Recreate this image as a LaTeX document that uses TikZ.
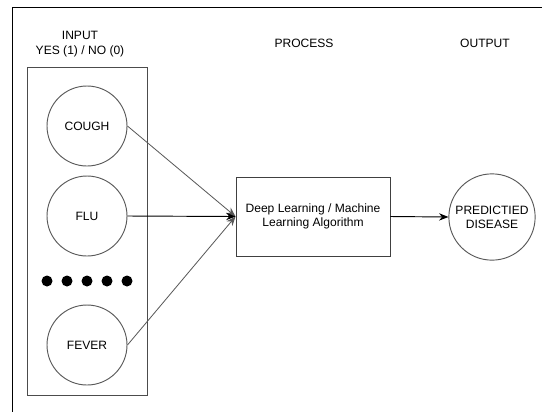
\documentclass[tikz,border=0pt]{standalone}
\usepackage{fontspec}
\setmainfont{Liberation Sans}
\usetikzlibrary{arrows.meta,positioning}
\tikzset{
    flow diagram/.style = {>={Stealth[length=2.8mm,width=2.2mm]},
                           x=0.03cm, y=-0.03cm},
    txt/.style          = {font=\fontsize{10.3}{12.2}\selectfont, align=center},
    symptom/.style      = {draw=black!65, line width=0.8pt, circle, fill=white,
                           minimum size=2.4cm, txt},
    result/.style       = {symptom, minimum size=2.58cm},
    block/.style        = {draw=black!75, line width=0.8pt, fill=white,
                           minimum width=4.62cm, minimum height=2.37cm, txt},
    group/.style        = {draw=black!70, line width=0.8pt,
                           minimum width=3.6cm, minimum height=9.84cm},
    dot/.style          = {circle, fill, inner sep=0pt, minimum size=0.33cm},
    line/.style         = {line width=0.8pt},
    faint line/.style   = {line width=0.7pt, draw=black!65},
    frame/.style        = {line width=0.8pt}
}

\begin{document}
\begin{tikzpicture}[flow diagram]
\useasboundingbox (0,0) rectangle (542,412);

% ================= Outer frame =================
\coordinate (frame tl) at (12,7);
\coordinate (frame tr) at (542,7);
\coordinate (frame bl) at (12,412);
\draw[frame] (frame tr) -- (frame tl) -- (frame bl);

% ================= Column titles =================
\node[txt] (in title) at (80,44) {INPUT\\YES (1) / NO (0)};
\node[txt] (proc title) at (304,43) {PROCESS};
\node[txt] (out title) at (485,43) {OUTPUT};

% ================= Inputs =================
\node[group] (inputs) at (87,231) {};
\node[symptom] (cough) at (87,126) {COUGH};
\node[symptom] (flu) at (87,216) {FLU};
\foreach \i/\x in {1/47,2/67,3/87,4/107,5/127}
    \node[dot] (dot\i) at (\x,281) {};
\node[symptom] (fever) at (87,345) {FEVER};

% ================= Process and output =================
\node[block] (algo) at (313,216.5) {Deep Learning / Machine\\Learning Algorithm};
\node[result] (disease) at (492,217) {PREDICTIED\\DISEASE};

% ================= Connectors =================
\draw[faint line, ->] (cough.east) -- (algo.west);
\draw[line, ->] (flu.east) -- (algo.west);
\draw[faint line, ->] (fever.east) -- (algo.west);
\draw[line, ->] (algo.east) -- (disease.west);

\end{tikzpicture}
\end{document}
